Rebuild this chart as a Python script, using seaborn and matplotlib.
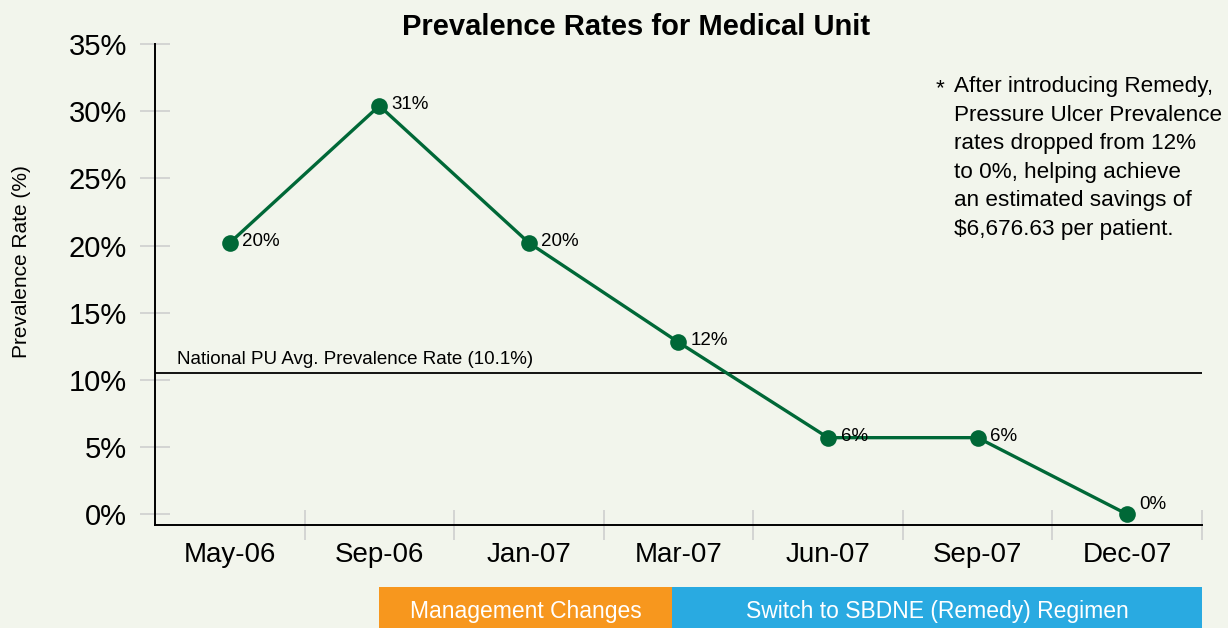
import numpy as np
import pandas as pd
import seaborn as sns
import matplotlib.pyplot as plt
from matplotlib.patches import Rectangle
import matplotlib.transforms as mtransforms

# --- data ---
months = ["May-06", "Sep-06", "Jan-07", "Mar-07", "Jun-07", "Sep-07", "Dec-07"]
rates = [20.2, 30.4, 20.2, 12.8, 5.7, 5.7, 0.0]
rate_labels = ["20%", "31%", "20%", "12%", "6%", "6%", "0%"]
national_avg = 10.5
y_ticks = [0, 5, 10, 15, 20, 25, 30, 35]

phases = ["Management Changes", "Switch to SBDNE (Remedy) Regimen"]
phase_start = [1.0, 2.96]
phase_end = [2.96, 6.5]
phase_colors = ["#f7971e", "#29aae1"]

bg = "#f2f5ec"
green = "#006837"

sns.set_theme(style="white")
plt.rcParams["font.family"] = ["Liberation Sans", "DejaVu Sans"]
plt.rcParams["text.color"] = "black"
plt.rcParams["xtick.color"] = "black"
plt.rcParams["ytick.color"] = "black"

df = pd.DataFrame({"month": months, "rate": rates})

fig = plt.figure(figsize=(12.28, 6.28), dpi=100, facecolor=bg)
ax = fig.add_axes([0.1262, 0.164, 0.8526, 0.766])
ax.set_facecolor(bg)

sns.lineplot(data=df, x="month", y="rate", ax=ax, color=green, lw=2.4,
             marker="o", markersize=12, markeredgewidth=0, sort=False)

# national average line
ax.axhline(national_avg, color="black", lw=1.3, zorder=1)
ax.text(-0.35, national_avg + 0.35, "National PU Avg. Prevalence Rate (10.1%)",
        fontsize=13.5, va="bottom", ha="left")

# point labels
for i, (v, lab) in enumerate(zip(rates, rate_labels)):
    ax.annotate(lab, (i, v), xytext=(9, 1 if v > 0 else 7),
                textcoords="offset points", fontsize=13.5, va="center", ha="left")

ax.set_xlim(-0.5, 6.5)
ax.set_ylim(-0.8, 35)
ax.set_yticks(y_ticks)
ax.set_yticklabels([f"{t}%" for t in y_ticks], fontsize=21)
ax.set_xticks(range(len(months)))
ax.set_xticklabels(months, fontsize=20)
ax.set_xticks(np.arange(0.5, 7, 1), minor=True)
ax.tick_params(left=True, bottom=True)
ax.tick_params(axis="x", which="major", length=0, pad=12)
ax.tick_params(axis="x", which="minor", bottom=True, direction="inout", length=22,
               color="#cfcfcf", width=1.2)
ax.tick_params(axis="y", direction="inout", length=22, color="#cfcfcf",
               width=1.2, pad=9, labelcolor="black")
ax.set_xlabel("")
ax.set_ylabel("")

for s in ["top", "right"]:
    ax.spines[s].set_visible(False)
for s in ["left", "bottom"]:
    ax.spines[s].set_color("black")
    ax.spines[s].set_linewidth(1.4)

fig.text(636 / 1228, 1 - 27 / 628, "Prevalence Rates for Medical Unit",
         fontsize=21, fontweight="bold", ha="center", va="center")
fig.text(22 / 1228, 1 - 262 / 628, "Prevalence Rate (%)", fontsize=15,
         rotation=90, ha="center", va="center")

# footnote
fig.text(0.762, 1 - 89 / 628, "*", fontsize=16.2, va="center", ha="left")
fig.text(0.777, 1 - 76 / 628,
         "After introducing Remedy,\nPressure Ulcer Prevalence\nrates dropped from 12%\n"
         "to 0%, helping achieve\nan estimated savings of\n$6,676.63 per patient.",
         fontsize=16.2, va="top", ha="left", linespacing=1.47)

# phase boxes under the axis
trans = mtransforms.blended_transform_factory(ax.transData, fig.transFigure)
for name, x0, x1, c in zip(phases, phase_start, phase_end, phase_colors):
    fig.patches.append(Rectangle((x0, 0.0), x1 - x0, 0.066, transform=trans,
                                 facecolor=c, edgecolor="none"))
    fig.text((x0 + x1) / 2, 0.027, name, transform=trans, color="white",
             fontsize=16.5, ha="center", va="center")

fig.savefig("out.png", dpi=100, facecolor=bg)
